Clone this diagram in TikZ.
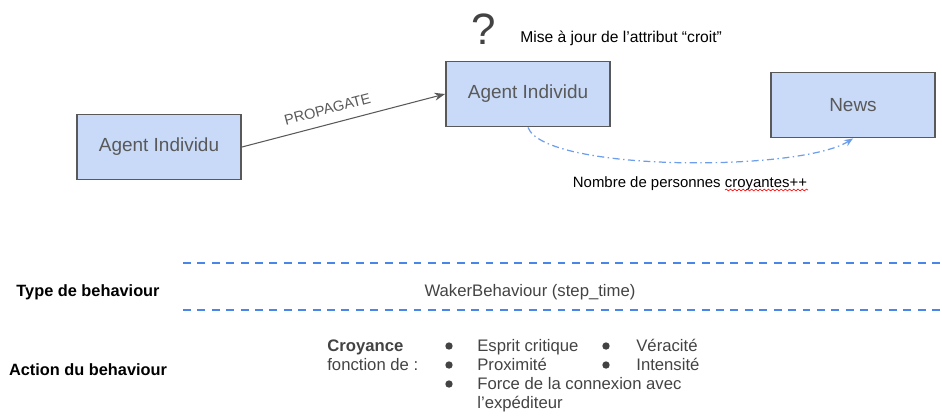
\documentclass[tikz,border=0pt]{standalone}
\usepackage{fontspec}
\setmainfont{Liberation Sans}
\usepackage{tikz}
\usepackage{xcolor}
\usetikzlibrary{arrows.meta,decorations.pathmorphing}

\definecolor{boxfill}{HTML}{C9DAF8}
\definecolor{boxline}{HTML}{595959}
\definecolor{dashblue}{HTML}{4A86E8}
\definecolor{curveblue}{HTML}{6D9EEB}
\definecolor{textgray}{HTML}{434343}

\begin{document}
\begin{tikzpicture}[x=0.02cm,y=-0.02cm,
        agent/.style={draw=boxline, fill=boxfill, line width=1.1pt, minimum width=3.28cm, minimum height=1.3cm, text=boxline, font=\fontsize{10.8}{13}\selectfont},
        lbl/.style={font=\fontsize{8.5}{10}\selectfont, inner sep=0pt},
        rowtxt/.style={anchor=base west, text=textgray, font=\fontsize{9.5}{11}\selectfont, inner sep=0pt},
        sidelbl/.style={anchor=base, font=\bfseries\fontsize{9.3}{11}\selectfont, inner sep=0pt},
        sepline/.style={dashblue, line width=1.1pt, dash pattern=on 4.5pt off 3.7pt}]
        \useasboundingbox (0,0) rectangle (942,417);

        % Agents and news
        \node[agent] (a1) at (159,147) {Agent Individu};
        \node[agent] (a2) at (528,94) {Agent Individu};
        \node[agent] (news) at (853,105) {News};

        % Propagation
        \draw[boxline, line width=0.6pt, -{Stealth[length=6pt,width=4.5pt]}] (a1.east) -- (a2.west)
            node[pos=0.44, above=2pt, sloped, text=boxline, font=\fontsize{8.3}{10}\selectfont] {PROPAGATE};

        % Update of the attribute
        \node[text=textgray, font=\fontsize{25}{28}\selectfont, inner sep=0pt] (quest) at (484,29) {?};
        \node[lbl, anchor=base west, font=\fontsize{8.9}{10}\selectfont] (maj) at (520,42) {Mise à jour de l’attribut “croit”};

        % Counter of believers
        \draw[curveblue, line width=0.7pt, dash pattern=on 4pt off 2pt on 0.8pt off 2pt, -{Stealth[length=5pt,width=4pt]}]
            (a2.south) .. controls (545,172) and (800,172) .. (news.south);
        \node[lbl, anchor=base] (nombre) at (690,187) {Nombre de personnes croyantes++};
        \draw[red, line width=0.35pt, decorate, decoration={snake, amplitude=0.5pt, segment length=2.4pt}] (725,190) -- (808,190);

        % Behaviour table
        \draw[sepline] (183,263) -- (942,263);
        \draw[sepline] (183,310) -- (942,310);
        \node[sidelbl] (typebhv) at (88,296) {Type de behaviour};
        \node[anchor=base, text=textgray, font=\fontsize{9.5}{11}\selectfont, inner sep=0pt] (waker) at (530,296) {WakerBehaviour (step\_time)};
        \node[sidelbl] (actionbhv) at (88,375) {Action du behaviour};

        % Belief depends on
        \node[rowtxt, font=\bfseries\fontsize{9.5}{11}\selectfont] (croy) at (327,351) {Croyance};
        \node[rowtxt] (fonct) at (327,370) {fonction de :};
        \foreach \y in {346,365,384}
            \fill[textgray] (449,\y) circle (2.1pt);
        \foreach \y in {346,365}
            \fill[textgray] (606,\y) circle (2.1pt);
        \node[rowtxt] (esprit) at (477,351) {Esprit critique};
        \node[rowtxt] (proxi) at (477,370) {Proximité};
        \node[rowtxt] (force) at (477,389) {Force de la connexion avec};
        \node[rowtxt] (exped) at (477,408) {l’expéditeur};
        \node[rowtxt] (verac) at (636,351) {Véracité};
        \node[rowtxt] (intens) at (636,370) {Intensité};
    \end{tikzpicture}
\end{document}
